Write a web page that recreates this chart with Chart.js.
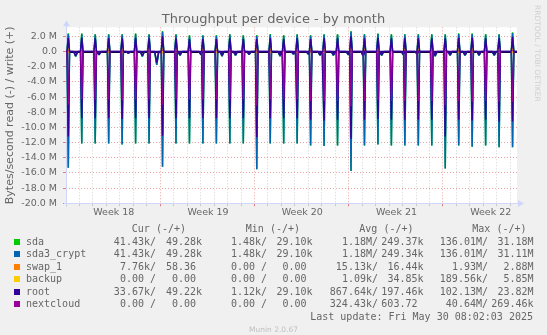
<!DOCTYPE html>
<html><head><meta charset="utf-8">
<script src="https://cdn.jsdelivr.net/npm/chart.js@4.4.1/dist/chart.umd.min.js"></script>
<style>
html,body{margin:0;padding:0;background:#f0f0f0;}
#wrap{position:relative;width:547px;height:335px;overflow:hidden;background:#f0f0f0;}
#c{position:absolute;left:0;top:0;}
.m{position:absolute;white-space:pre;font-family:"DejaVu Sans Mono",monospace;font-size:10px;line-height:12px;height:12px;color:#666;}
.sq{position:absolute;width:6px;height:6px;}
#title{position:absolute;left:0;width:547px;top:11px;text-align:center;font-family:"DejaVu Sans",sans-serif;font-size:13px;line-height:16px;color:#666;}
#wm{position:absolute;left:532px;top:5px;writing-mode:vertical-rl;font-family:"DejaVu Sans",sans-serif;font-size:7.5px;line-height:10px;color:#d0d0d0;white-space:nowrap;}
#ver{position:absolute;left:0;width:547px;top:325px;text-align:center;font-family:"DejaVu Sans",sans-serif;font-size:7.5px;line-height:10px;color:#c0c0c0;}
</style></head><body>
<div id="wrap">
<canvas id="c" width="547" height="335"></canvas>
<div id="title">Throughput per device - by month</div>
<div id="wm">RRDTOOL / TOBI OETIKER</div>
<div id="legend"></div>
<div id="ver">Munin 2.0.67</div>
</div>
<script>
// ---- x positions (days since start of the 33.5-day window) ----
const spikeDays = [0.17,1.17,2.17,3.17,4.17,5.17,6.17,7.17,8.17,9.17,10.17,11.17,12.17,13.17,14.17,15.17,16.17,17.17,18.17,19.17,20.17,21.17,22.17,23.17,24.17,25.17,26.17,27.17,28.17,29.17,30.17,31.17,32.17,33.17];
const dipDays = [0.72,2.45,4.63,5.67,6.74,8.47,10.03,11.59,12.59,13.6,15.9,16.89,18.0,18.87,19.86,20.97,22.07,23.45,25.06,26.06,27.42,28.53,29.64,30.68,31.81];

// ---- series values in M bytes/s (write +, read -) at each spike ----
const sdaWriteM = [2.41,2.41,2.32,2.32,2.32,2.41,2.32,2.70,2.32,2.19,2.19,2.19,2.32,2.19,2.19,2.32,2.19,2.32,2.19,2.32,2.32,2.72,2.32,2.41,2.32,2.32,2.32,2.32,2.32,2.41,2.41,2.32,2.32,2.54];
const sdaReadM = [-15.30,-12.11,-12.11,-12.11,-12.24,-12.11,-12.11,-15.17,-12.11,-12.11,-12.11,-12.11,-12.11,-12.11,-15.52,-12.11,-12.11,-12.11,-12.37,-12.46,-12.37,-15.75,-12.37,-12.24,-12.37,-12.37,-12.37,-12.37,-15.40,-12.37,-12.55,-12.37,-12.60,-12.60];
const sda3WriteM = [2.31,2.31,2.22,2.22,2.22,2.31,2.22,2.60,2.22,2.09,2.09,2.09,2.22,2.09,2.09,2.22,2.09,2.22,2.09,2.22,2.22,2.62,2.22,2.31,2.22,2.22,2.22,2.22,2.22,2.31,2.31,2.22,2.22,2.44];
const sda3ReadM = [-15.30,-12.11,-12.11,-12.11,-12.24,-12.11,-12.11,-15.17,-12.11,-12.11,-12.11,-12.11,-12.11,-12.11,-15.52,-12.11,-12.11,-12.11,-12.37,-12.46,-12.37,-15.75,-12.37,-12.24,-12.37,-12.37,-12.37,-12.37,-15.40,-12.37,-12.55,-12.37,-12.60,-12.60];
const swapWriteM = [0.5,0.5,0.5,0.5,0.5,0.5,0.5,0.55,0.5,0.5,0.5,0.5,0.5,0.5,0.55,0.5,0.5,0.5,0.5,0.5,0.5,0.55,0.5,0.5,0.5,0.5,0.5,0.5,0.55,0.5,0.5,0.5,0.5,0.5];
const swapReadM = [-0.15,-0.15,-0.15,-0.15,-0.15,-0.15,-0.15,-0.2,-0.15,-0.15,-0.15,-0.15,-0.15,-0.15,-0.2,-0.15,-0.15,-0.15,-0.15,-0.15,-0.15,-0.2,-0.15,-0.15,-0.15,-0.15,-0.15,-0.15,-0.2,-0.15,-0.15,-0.15,-0.15,-0.15];
const backupWriteM = [0.3,0.3,0.3,0.3,0.3,0.3,0.3,0.35,0.3,0.3,0.3,0.3,0.3,0.3,0.35,0.3,0.3,0.3,0.3,0.3,0.3,0.35,0.3,0.3,0.3,0.3,0.3,0.3,0.35,0.3,0.3,0.3,0.3,0.3];
const backupReadM = [-0.05,-0.05,-0.05,-0.05,-0.05,-0.05,-0.05,-0.05,-0.05,-0.05,-0.05,-0.05,-0.05,-0.05,-0.05,-0.05,-0.05,-0.05,-0.05,-0.05,-0.05,-0.05,-0.05,-0.05,-0.05,-0.05,-0.05,-0.05,-0.05,-0.05,-0.05,-0.05,-0.05,-0.05];
const rootWriteM = [1.8,1.8,1.75,1.75,1.75,1.8,1.75,2.0,1.75,1.65,1.65,1.65,1.75,1.65,1.65,1.75,1.65,1.75,1.65,1.75,1.75,2.0,1.75,1.8,1.75,1.75,1.75,1.75,1.75,1.8,1.8,1.75,1.75,1.9];
const rootReadM = [-11.2,-8.8,-8.8,-8.8,-8.9,-8.8,-8.8,-11.1,-8.8,-8.8,-8.8,-8.8,-8.8,-8.8,-11.3,-8.8,-8.8,-8.8,-9.0,-9.1,-9.0,-11.5,-9.0,-8.9,-9.0,-9.0,-9.0,-9.0,-11.2,-9.0,-9.1,-9.0,-9.2,-9.2];
const nextcloudWriteM = [0.12,0.12,0.12,0.12,0.12,0.12,0.12,0.15,0.12,0.12,0.12,0.12,0.12,0.12,0.15,0.12,0.12,0.12,0.12,0.12,0.12,0.15,0.12,0.12,0.12,0.12,0.12,0.12,0.15,0.12,0.12,0.12,0.12,0.12];
const nextcloudReadM = [-7.0,-6.3,-6.3,-6.3,-6.4,-6.3,-6.3,-7.0,-6.3,-6.3,-6.3,-6.3,-6.3,-6.3,-7.1,-6.3,-6.3,-6.3,-6.5,-6.5,-6.5,-7.2,-6.5,-6.4,-6.5,-6.5,-6.5,-6.5,-7.1,-6.5,-6.6,-6.5,-6.6,-6.6];
// small read dips between spikes
const rootDipM = [-0.55,-0.4,-0.2,-0.55,-1.5,-0.45,-0.4,-0.5,-0.45,-0.35,-0.5,-0.3,-0.3,-0.45,-0.45,-0.4,-0.5,-0.45,-0.4,-0.25,-0.5,-0.45,-0.45,-0.45,-0.45];
const sdaDipM = [-0.65,-0.45,-0.25,-0.65,-1.75,-0.5,-0.45,-0.6,-0.5,-0.4,-0.6,-0.35,-0.35,-0.5,-0.5,-0.45,-0.6,-0.5,-0.45,-0.3,-0.6,-0.5,-0.5,-0.5,-0.5];

// ---- axis labels ----
const weekLabels = ['Week 18','Week 19','Week 20','Week 21','Week 22'];
const weekLabelDays = [3.55,10.55,17.55,24.55,31.55];
const weekLineDays = [7,14,21,28];
const yTitle = 'Bytes/second read (-) / write (+)';

// ---- legend ----
const names = ['sda','sda3_crypt','swap_1','backup','root','nextcloud'];
const colors = ['#00cc00','#0066b3','#ff8000','#ffcc00','#330099','#990099'];
const curRead = ['41.43k','41.43k','7.76k','0.00 ','33.67k','0.00 '];
const curWrite = ['49.28k','49.28k','58.36 ','0.00 ','49.22k','0.00 '];
const minRead = ['1.48k','1.48k','0.00 ','0.00 ','1.12k','0.00 '];
const minWrite = ['29.10k','29.10k','0.00 ','0.00 ','29.10k','0.00 '];
const avgRead = ['1.18M','1.18M','15.13k','1.09k','867.64k','324.43k'];
const avgWrite = ['249.37k','249.34k','16.44k','34.85k','197.46k','603.72 '];
const maxRead = ['136.01M','136.01M','1.93M','189.56k','102.13M','40.64M'];
const maxWrite = ['31.18M','31.11M','2.88M','5.85M','23.82M','269.46k'];
const headers = ['Cur (-/+)','Min (-/+)','Avg (-/+)','Max (-/+)'];
const lastUpdate = 'Last update: Fri May 30 08:02:03 2025';

const X_MAX = 33.5, Y_MIN = -20, Y_MAX = 3.2;
const SPIKE_HW = 0.09, DIP_HW = 0.15;

function build(days, vals, dDays, dVals, continuous) {
  const ev = days.map((d,i)=>[d, vals[i], SPIKE_HW]);
  if (dDays) dDays.forEach((d,i)=>ev.push([d, dVals[i], DIP_HW]));
  ev.sort((a,b)=>a[0]-b[0]);
  const pts = [];
  if (continuous) pts.push({x:0,y:0});
  ev.forEach(([d,v,h])=>{
    pts.push({x:d-h,y:0},{x:d,y:v},{x:d+h,y:0});
    if (!continuous) pts.push({x:d+h,y:null});
  });
  if (continuous) pts.push({x:X_MAX,y:0});
  return pts;
}
function ds(label, color, pts, order, w) {
  return {label, data: pts, borderColor: color, backgroundColor: color, borderWidth: w || 1.5,
    pointRadius: 0, tension: 0, spanGaps: false, fill: false, order};
}
const datasets = [
  ds('sda', colors[0], build(spikeDays, sdaWriteM), 12),
  ds('sda', colors[0], build(spikeDays, sdaReadM, dipDays, sdaDipM), 11),
  ds('sda3_crypt', colors[1], build(spikeDays, sda3WriteM), 10),
  ds('sda3_crypt', colors[1], build(spikeDays, sda3ReadM, dipDays, sdaDipM), 9),
  ds('swap_1', colors[2], build(spikeDays, swapWriteM), 8),
  ds('swap_1', colors[2], build(spikeDays, swapReadM), 7),
  ds('backup', colors[3], build(spikeDays, backupWriteM), 6),
  ds('backup', colors[3], build(spikeDays, backupReadM), 5),
  ds('root', colors[4], build(spikeDays, rootWriteM, null, null, true), 4),
  ds('root', colors[4], build(spikeDays, rootReadM, dipDays, rootDipM, true), 3),
  ds('nextcloud', colors[5], build(spikeDays, nextcloudWriteM), 2, 1),
  ds('nextcloud', colors[5], build(spikeDays, nextcloudReadM), 1, 1)
];

const MAJOR = '#eaa3a3', MINOR = '#d2d2d2', AXIS = '#cfd6f8', FONT = '#666666';
const xTicks = [];
for (let d = 0; d <= 33; d++) xTicks.push(d);
weekLabelDays.forEach(d=>xTicks.push(d));
xTicks.sort((a,b)=>a-b);
const yTicks = [];
for (let v = Y_MIN; v <= 3; v++) yTicks.push(v);

const bgPlugin = {
  id: 'bg',
  beforeDraw(chart) {
    const {ctx, chartArea: a} = chart;
    ctx.save(); ctx.fillStyle = '#ffffff';
    ctx.fillRect(a.left, a.top, a.right - a.left, a.bottom - a.top);
    ctx.restore();
  },
  beforeDatasetsDraw(chart) {
    const {ctx, chartArea: a, scales: {y}} = chart;
    ctx.save();
    const y0 = Math.round(y.getPixelForValue(0)) + 0.5;
    ctx.strokeStyle = '#000000'; ctx.lineWidth = 1;
    ctx.beginPath(); ctx.moveTo(a.left, y0); ctx.lineTo(a.right, y0); ctx.stroke();
    ctx.strokeStyle = AXIS; ctx.fillStyle = AXIS;
    const xb = Math.round(a.bottom) + 0.5, xl = Math.round(a.left) + 0.5;
    ctx.beginPath(); ctx.moveTo(a.left - 2, xb); ctx.lineTo(a.right + 2, xb); ctx.stroke();
    ctx.beginPath(); ctx.moveTo(a.right + 1, xb - 3.5); ctx.lineTo(a.right + 7, xb); ctx.lineTo(a.right + 1, xb + 3.5); ctx.closePath(); ctx.fill();
    ctx.beginPath(); ctx.moveTo(xl, a.bottom + 2); ctx.lineTo(xl, a.top - 2); ctx.stroke();
    ctx.beginPath(); ctx.moveTo(xl - 3.5, a.top - 1); ctx.lineTo(xl, a.top - 7); ctx.lineTo(xl + 3.5, a.top - 1); ctx.closePath(); ctx.fill();
    ctx.restore();
  }
};

new Chart(document.getElementById('c'), {
  type: 'line',
  data: { datasets },
  plugins: [bgPlugin],
  options: {
    responsive: false, animation: false, devicePixelRatio: 1,
    layout: { padding: { top: 27.3, right: 30, bottom: 111.7, left: 0 } },
    plugins: { legend: { display: false }, tooltip: { enabled: false }, title: { display: false } },
    elements: { line: { borderJoinStyle: 'bevel' } },
    scales: {
      x: {
        type: 'linear', min: 0, max: X_MAX, position: 'bottom',
        afterBuildTicks(s) { s.ticks = xTicks.map(v=>({value:v})); },
        afterFit(s) { s.height = 20; },
        ticks: {
          autoSkip: false, maxRotation: 0, minRotation: 0, padding: 1, color: FONT,
          font: { family: 'DejaVu Sans', size: 9.5 },
          callback(v) { const i = weekLabelDays.indexOf(v); return i >= 0 ? weekLabels[i] : ''; }
        },
        grid: {
          lineWidth: 1, tickLength: 3, drawTicks: true,
          color(c) { const v = c.tick && c.tick.value; if (weekLabelDays.includes(v)) return 'rgba(0,0,0,0)'; return weekLineDays.includes(v) ? MAJOR : MINOR; },
          tickColor(c) { const v = c.tick && c.tick.value; if (weekLabelDays.includes(v)) return 'rgba(0,0,0,0)'; return weekLineDays.includes(v) ? '#e08080' : '#c8c8c8'; }
        },
        border: { display: false, dash: [1, 2] }
      },
      y: {
        type: 'linear', min: Y_MIN, max: Y_MAX, position: 'left',
        afterBuildTicks(s) { s.ticks = yTicks.map(v=>({value:v})); },
        afterFit(s) { s.width = 66; },
        ticks: {
          padding: 6, color: FONT, font: { family: 'DejaVu Sans', size: 9.5 },
          callback(v) { if (Math.abs(v % 2) !== 0) return ''; return v === 0 ? '0.0' : v.toFixed(1) + ' M'; }
        },
        title: { display: true, text: yTitle, color: FONT, font: { family: 'DejaVu Sans', size: 11 }, padding: { top: 4, bottom: 0 } },
        grid: {
          lineWidth: 1, tickLength: 3, drawTicks: true,
          color(c) { const v = c.tick && c.tick.value; return Math.abs(v % 2) === 0 ? MAJOR : MINOR; },
          tickColor(c) { const v = c.tick && c.tick.value; return Math.abs(v % 2) === 0 ? '#e08080' : '#c8c8c8'; }
        },
        border: { display: false, dash: [1, 2] }
      }
    }
  }
});

// ---- legend (HTML text) ----
const L = document.getElementById('legend');
function cell(text, right, cy) {
  const d = document.createElement('div'); d.className = 'm';
  d.textContent = text; d.style.right = (547 - right) + 'px'; d.style.top = (cy - 6) + 'px';
  L.appendChild(d);
}
const readRight = [156, 267, 378, 488], writeRight = [202, 312.5, 423.5, 533.5], headRight = [186, 300, 413.5, 526.5];
headers.forEach((h,i)=>cell(h, headRight[i], 228.6));
const cols = [[curRead,curWrite],[minRead,minWrite],[avgRead,avgWrite],[maxRead,maxWrite]];
names.forEach((n,r)=>{
  const cy = 241.9 + r * 12.42;
  const sq = document.createElement('div'); sq.className = 'sq';
  sq.style.left = '14px'; sq.style.top = (cy - 3) + 'px'; sq.style.background = colors[r];
  L.appendChild(sq);
  const lb = document.createElement('div'); lb.className = 'm';
  lb.textContent = n; lb.style.left = '26px'; lb.style.top = (cy - 6) + 'px';
  L.appendChild(lb);
  cols.forEach(([rd, wr], c)=>{ cell(rd[r] + '/', readRight[c], cy); cell(wr[r], writeRight[c], cy); });
});
cell(lastUpdate, 533, 316.5);
</script>
</body></html>
